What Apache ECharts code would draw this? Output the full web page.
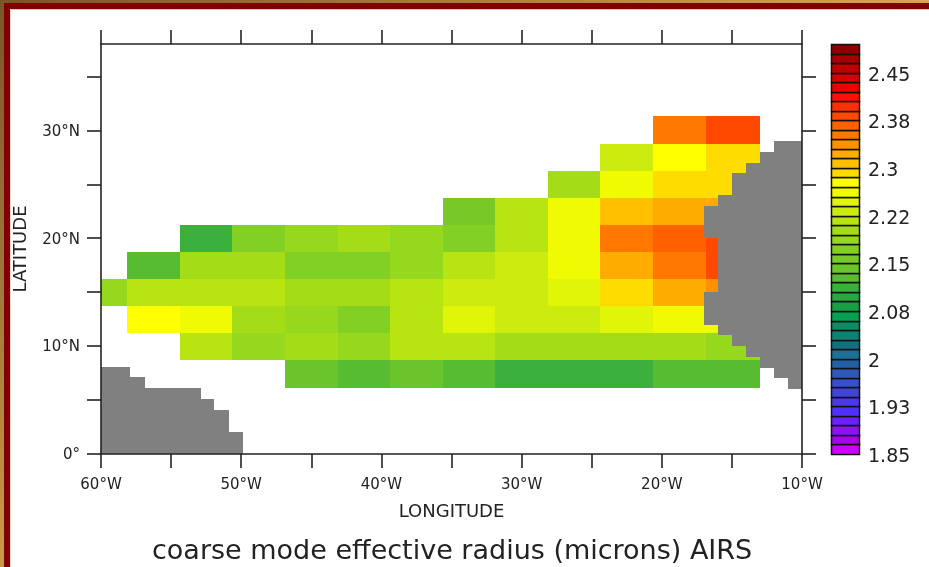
<!DOCTYPE html>
<html><head><meta charset="utf-8">
<style>html,body{margin:0;padding:0;background:#fff}#c{width:929px;height:567px}</style>
<script src="https://cdn.jsdelivr.net/npm/echarts@6/dist/echarts.min.js"></script>
</head><body><div id="c"></div>
<script>
// cell edges, west to east and north to south
const lonEdges = [-61.875,-58.125,-54.375,-50.625,-46.875,-43.125,-39.375,-35.625,-31.875,-28.125,-24.375,-20.625,-16.875,-13];
const latEdges = [31.35,28.75,26.25,23.75,21.25,18.75,16.25,13.75,11.25,8.7,6.12];
const _ = null;
const row30  = [_,_,_,_,_,_,_,_,_,_,_,2.353,2.383];
const row275 = [_,_,_,_,_,_,_,_,_,_,2.233,2.278,2.293];
const row25  = [_,_,_,_,_,_,_,_,_,2.203,2.263,2.293,2.293];
const row225 = [_,_,_,_,_,_,_,2.158,2.218,2.263,2.308,2.323,2.323];
const row20  = [_,_,2.113,2.173,2.188,2.203,2.188,2.173,2.218,2.263,2.353,2.368,2.383];
const row175 = [_,2.128,2.203,2.203,2.173,2.173,2.188,2.218,2.233,2.263,2.323,2.353,2.383];
const row15  = [2.188,2.218,2.218,2.218,2.203,2.203,2.218,2.233,2.233,2.248,2.293,2.323,2.338];
const row125 = [_,2.278,2.263,2.203,2.188,2.173,2.218,2.248,2.233,2.233,2.248,2.263,2.263];
const row10  = [_,_,2.218,2.188,2.203,2.188,2.218,2.218,2.203,2.203,2.203,2.203,2.188];
const row75  = [_,_,_,_,2.143,2.128,2.143,2.128,2.113,2.113,2.113,2.128,2.128];
const rows = [row30,row275,row25,row225,row20,row175,row15,row125,row10,row75];
// land mask: [latFrom, latTo, lonFrom, lonTo]
const land = [
 [0,2.04,-60,-49.9],[2.04,4.05,-60,-50.9],[4.05,5.07,-60,-51.95],[5.07,6.09,-60,-52.85],[6.09,7.1,-60,-56.85],[7.1,8.1,-60,-57.9],
 [6,7,-11,-10],[7,8,-12,-10],[8,9,-13,-10],[9,10,-14,-10],[10,11,-15,-10],[11,12,-16,-10],
 [12,15,-17,-10],[15,20,-16,-10],[20,23,-17,-10],[23,24,-16,-10],[24,26,-15,-10],
 [26,27,-14,-10],[27,28,-13,-10],[28,29,-12,-10]
];
const levels = [1.85,1.865,1.88,1.895,1.91,1.925,1.94,1.955,1.97,1.985,2,2.015,2.03,2.045,2.06,2.075,2.09,2.105,2.12,2.135,2.15,2.165,2.18,2.195,2.21,2.225,2.24,2.255,2.27,2.285,2.3,2.315,2.33,2.345,2.36,2.375,2.39,2.405,2.42,2.435,2.45,2.465,2.48,2.495];
const palette = ['#cc00ff','#aa00ee','#9010f0','#6c20ff','#5030ff','#4a38ea','#4045d5','#3850c5','#3058b8','#2460a5','#1c6f95','#147080','#128070','#0a8d60','#08a050','#18a045','#28a840','#3cb03c','#58bc30','#6ac42c','#78c828','#82cf25','#95d81e','#a5dc18','#b8e412','#ccec10','#e0f508','#f0fa00','#ffff00','#ffdc00','#ffc000','#ffab00','#ff9000','#ff7800','#ff6000','#ff4800','#ff3000','#ff1000','#f00000','#da0000','#c00000','#a60000','#8b0000'];
const barTicks = [1.85,1.925,2,2.075,2.15,2.225,2.3,2.375,2.45];
const barLabels = ['1.85','1.93','2','2.08','2.15','2.22','2.3','2.38','2.45'];
const lonTicks = [-60,-55,-50,-45,-40,-35,-30,-25,-20,-15,-10];
const lonLabels = {'-60':'60°W','-50':'50°W','-40':'40°W','-30':'30°W','-20':'20°W','-10':'10°W'};
const latTicks = [0,5,10,15,20,25,30,35];
const latLabels = {0:'0°',10:'10°N',20:'20°N',30:'30°N'};
const titleText = 'coarse mode effective radius (microns) AIRS';

function colorOf(v){
  let k = 0;
  for (let i=0;i<palette.length;i++) if (v>=levels[i]) k=i;
  return palette[k];
}
const cellData = [];
rows.forEach((r,j)=>r.forEach((v,i)=>{ if(v!==null) cellData.push([lonEdges[i],lonEdges[i+1],latEdges[j+1],latEdges[j],v]); }));
function rectItem(params,api,fill){
  const a = api.coord([api.value(0),api.value(2)]);
  const b = api.coord([api.value(1),api.value(3)]);
  const x = Math.round(Math.min(a[0],b[0])), y = Math.round(Math.min(a[1],b[1]));
  const x2 = Math.round(Math.max(a[0],b[0])), y2 = Math.round(Math.max(a[1],b[1]));
  return {type:'rect',shape:{x:x,y:y,width:x2-x,height:y2-y},style:{fill:fill}};
}
const FONT = 'DejaVu Sans';
const ink = '#222';
const line = {onZero:false,lineStyle:{color:ink,width:1.6}};
const tickCommon = {show:true,length:14,lineStyle:{color:ink,width:1.6}};
const chart = echarts.init(document.getElementById('c'),null,{renderer:'canvas'});
chart.setOption({
  animation:false,
  backgroundColor:'#fff',
  title:{text:titleText,left:152,top:538,padding:0,textStyle:{fontFamily:FONT,fontSize:27,fontWeight:'normal',color:ink}},
  grid:[
    {left:101,top:44,width:701,height:410},
    {left:831,top:44,width:29,height:410}
  ],
  xAxis:[
    {gridIndex:0,type:'value',min:-60,max:-10,position:'bottom',z:5,name:'LONGITUDE',nameLocation:'middle',nameGap:49,
     nameTextStyle:{fontFamily:FONT,fontSize:18,color:ink},
     splitLine:{show:false},axisLine:line,axisTick:{...tickCommon,customValues:lonTicks},
     axisLabel:{customValues:lonTicks,margin:24,fontFamily:FONT,fontSize:15,color:ink,formatter:v=>lonLabels[v]||''}},
    {gridIndex:0,type:'value',min:-60,max:-10,position:'top',z:5,splitLine:{show:false},axisLine:line,
     axisTick:{...tickCommon,customValues:lonTicks},axisLabel:{show:false}},
    {gridIndex:1,type:'value',min:0,max:1,show:false}
  ],
  yAxis:[
    {gridIndex:0,type:'value',min:0,max:38,position:'left',z:5,name:'LATITUDE',nameLocation:'middle',nameGap:71,
     nameTextStyle:{fontFamily:FONT,fontSize:18,color:ink},
     splitLine:{show:false},axisLine:line,axisTick:{...tickCommon,customValues:latTicks},
     axisLabel:{customValues:latTicks,margin:21,verticalAlign:'top',lineHeight:3,fontFamily:FONT,fontSize:15,color:ink,formatter:v=>latLabels[v]||''}},
    {gridIndex:0,type:'value',min:0,max:38,position:'right',z:5,splitLine:{show:false},axisLine:line,
     axisTick:{...tickCommon,customValues:latTicks},axisLabel:{show:false}},
    {gridIndex:1,type:'value',min:1.85,max:2.495,position:'right',splitLine:{show:false},axisLine:{show:false},axisTick:{show:false},
     axisLabel:{customValues:barTicks,margin:8,verticalAlign:'top',lineHeight:6,fontFamily:FONT,fontSize:19,color:ink,
       formatter:v=>{const i=barTicks.findIndex(t=>Math.abs(t-v)<1e-6);return i>=0?barLabels[i]:'';}}}
  ],
  graphic:[
    {type:'rect',z:-1,shape:{x:0,y:0,width:929,height:3},style:{fill:new echarts.graphic.LinearGradient(0,0,1,0,[{offset:0,color:'#7a5628'},{offset:1,color:'#d4a850'}])}},
    {type:'rect',z:-1,shape:{x:0,y:3,width:929,height:6},style:{fill:'#800000'}},
    {type:'rect',z:-1,shape:{x:10,y:9,width:919,height:1},style:{fill:'#f4b8b8'}},
    {type:'rect',z:-1,shape:{x:0,y:0,width:4,height:567},style:{fill:new echarts.graphic.LinearGradient(0,0,0,1,[{offset:0,color:'#7a5628'},{offset:1,color:'#c89a48'}])}},
    {type:'rect',z:-1,shape:{x:4,y:3,width:6,height:564},style:{fill:'#800000'}},
    {type:'rect',z:-1,shape:{x:10,y:9,width:1,height:558},style:{fill:'#f4d0d0'}}
  ],
  series:[
    {type:'custom',name:'radius',coordinateSystem:'cartesian2d',xAxisIndex:0,yAxisIndex:0,clip:true,z:2,silent:true,
     data:cellData,encode:{x:[0,1],y:[2,3]},
     renderItem:(p,api)=>rectItem(p,api,colorOf(api.value(4)))},
    {type:'custom',name:'land',coordinateSystem:'cartesian2d',xAxisIndex:0,yAxisIndex:0,clip:true,z:3,silent:true,
     data:land.map(b=>[b[2],b[3],b[0],b[1]]),encode:{x:[0,1],y:[2,3]},
     renderItem:(p,api)=>rectItem(p,api,'#808080')},
    {type:'custom',name:'colorbar',coordinateSystem:'cartesian2d',xAxisIndex:2,yAxisIndex:2,z:2,silent:true,
     data:palette.map((c,i)=>[0,1,levels[i],levels[i+1]]),encode:{x:[0,1],y:[2,3]},
     renderItem:(p,api)=>{
       const it = rectItem(p,api,palette[p.dataIndex]);
       it.style.stroke='#111'; it.style.lineWidth=1.5;
       it.shape.x+=0.5; it.shape.y+=0.5; it.shape.width-=1;
       return it;
     }}
  ]
});
</script></body></html>
